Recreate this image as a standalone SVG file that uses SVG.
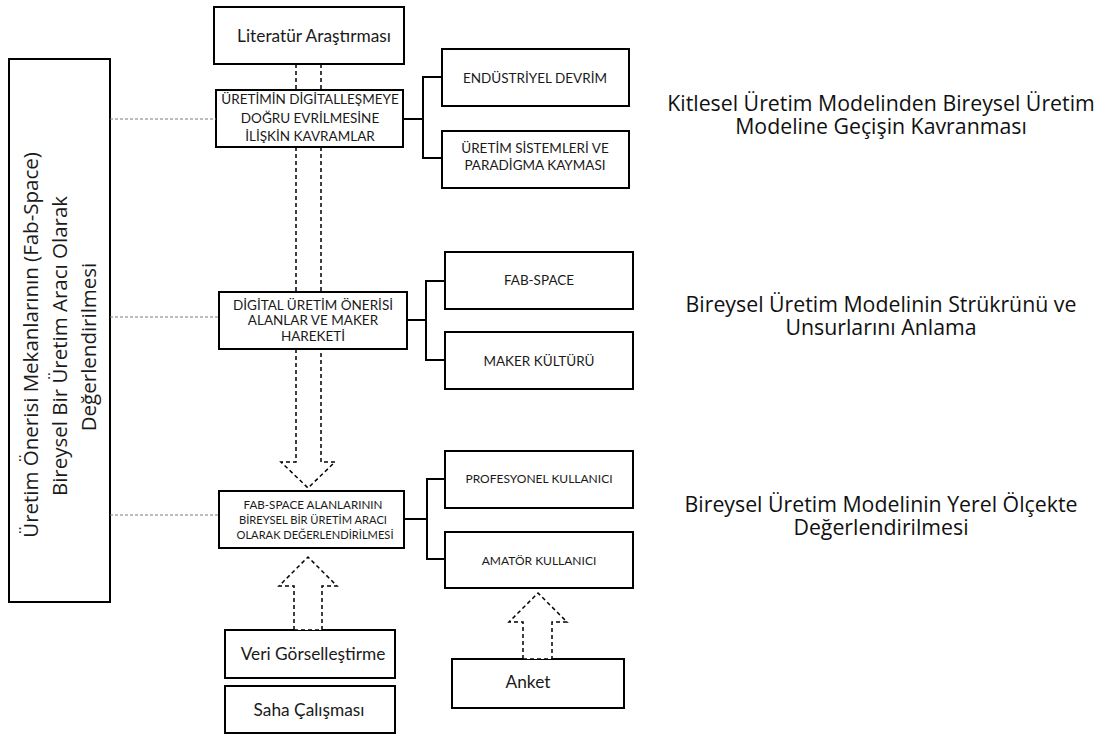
<svg xmlns="http://www.w3.org/2000/svg" width="1108" height="736" viewBox="0 0 1108 736">
  <style>
    .box { fill: #fff; stroke: #000; stroke-width: 2; }
    .t { font-family: Lato, "Open Sans", "Liberation Sans", sans-serif; fill: #1a1a1a; text-anchor: middle; }
    .cap { font-size: 13.5px; }
    .cap-s { font-size: 12px; }
    .cap-xs { font-size: 11.5px; }
    .lbl { font-size: 17.3px; }
    .side { font-family: "Open Sans", "Liberation Sans", sans-serif; font-size: 20.5px; fill: #1a1a1a; text-anchor: middle; }
    .title { font-family: "Open Sans", "Liberation Sans", sans-serif; font-size: 21.3px; fill: #111; text-anchor: middle; }
    .dash { fill: none; stroke: #000; stroke-width: 1.5; stroke-dasharray: 4 3; }
    .dash-w { fill: #fff; stroke: #000; stroke-width: 1.5; stroke-dasharray: 4 3; }
    .dot { fill: none; stroke: #7a7a7a; stroke-width: 1; stroke-dasharray: 3 2; }
    .brk { fill: none; stroke: #000; stroke-width: 2; }
  </style>

  <!-- side frame spanning all three stages -->
  <g id="frame">
    <rect class="box" x="9" y="59" width="101" height="543"/>
    <text class="side" transform="translate(38,345) rotate(-90)">Üretim Önerisi Mekanlarının (Fab-Space)</text>
    <text class="side" transform="translate(67,346) rotate(-90)">Bireysel Bir Üretim Aracı Olarak</text>
    <text class="side" transform="translate(96,347) rotate(-90)">Değerlendirilmesi</text>
  </g>

  <g id="literatur">
    <rect class="box" x="214" y="7" width="190" height="57"/>
    <text class="t lbl" x="314" y="42">Literatür Araştırması</text>
  </g>

  <g id="kavramlar">
    <rect class="box" x="216" y="90" width="187" height="57"/>
    <text class="t cap" x="310" y="104">ÜRETİMİN DİGİTALLEŞMEYE</text>
    <text class="t cap" x="310" y="123">DOĞRU EVRİLMESİNE</text>
    <text class="t cap" x="310" y="141">İLİŞKİN KAVRAMLAR</text>
  </g>

  <g id="endustriyel">
    <rect class="box" x="442" y="49" width="187" height="57"/>
    <text class="t cap" x="535" y="83">ENDÜSTRİYEL DEVRİM</text>
  </g>

  <g id="paradigma">
    <rect class="box" x="442" y="131" width="187" height="57"/>
    <text class="t cap" x="535" y="153">ÜRETİM SİSTEMLERİ VE</text>
    <text class="t cap" x="535" y="170">PARADİGMA KAYMASI</text>
  </g>

  <g id="dijital">
    <rect class="box" x="219" y="292" width="188" height="57"/>
    <text class="t cap" x="313" y="310">DİGİTAL ÜRETİM ÖNERİSİ</text>
    <text class="t cap" x="313" y="325">ALANLAR VE MAKER</text>
    <text class="t cap" x="313" y="341">HAREKETİ</text>
  </g>

  <g id="fabspace">
    <rect class="box" x="445" y="252" width="188" height="57"/>
    <text class="t cap" x="539" y="285">FAB-SPACE</text>
  </g>

  <g id="maker">
    <rect class="box" x="445" y="332" width="188" height="57"/>
    <text class="t cap" x="539" y="366">MAKER KÜLTÜRÜ</text>
  </g>

  <g id="degerlendirme">
    <rect class="box" x="219" y="491" width="185" height="57"/>
    <text class="t cap-xs" x="313" y="509" textLength="139" lengthAdjust="spacingAndGlyphs">FAB-SPACE ALANLARININ</text>
    <text class="t cap-xs" x="313" y="524" textLength="148" lengthAdjust="spacingAndGlyphs">BİREYSEL BİR ÜRETİM ARACI</text>
    <text class="t cap-xs" x="315" y="539" textLength="157" lengthAdjust="spacingAndGlyphs">OLARAK DEĞERLENDİRİLMESİ</text>
  </g>

  <g id="profesyonel">
    <rect class="box" x="445" y="451" width="188" height="57"/>
    <text class="t cap-s" x="539" y="483">PROFESYONEL KULLANICI</text>
  </g>

  <g id="amator">
    <rect class="box" x="445" y="532" width="188" height="56"/>
    <text class="t cap-s" x="539" y="565">AMATÖR KULLANICI</text>
  </g>

  <g id="veri">
    <rect class="box" x="225" y="630" width="170" height="48"/>
    <text class="t lbl" x="313" y="660">Veri Görselleştirme</text>
  </g>

  <g id="saha">
    <rect class="box" x="225" y="686" width="170" height="47"/>
    <text class="t lbl" x="309" y="716">Saha Çalışması</text>
  </g>

  <g id="anket">
    <rect class="box" x="452" y="659" width="172" height="49"/>
    <text class="t lbl" x="528" y="688" font-size="15.5">Anket</text>
  </g>

  <!-- stage captions -->
  <g id="asama1">
    <text class="title"><tspan x="881" y="111">Kitlesel Üretim Modelinden Bireysel Üretim</tspan><tspan x="881" y="134">Modeline Geçişin Kavranması</tspan></text>
  </g>
  <g id="asama2">
    <text class="title"><tspan x="881" y="312">Bireysel Üretim Modelinin Strükrünü ve</tspan><tspan x="881" y="335">Unsurlarını Anlama</tspan></text>
  </g>
  <g id="asama3">
    <text class="title"><tspan x="881" y="512">Bireysel Üretim Modelinin Yerel Ölçekte</tspan><tspan x="881" y="535">Değerlendirilmesi</tspan></text>
  </g>

  <g id="connectors">
    <!-- dotted leaders from the side frame -->
    <line class="dot" x1="110" y1="119" x2="216" y2="119"/>
    <line class="dot" x1="110" y1="317" x2="219" y2="317"/>
    <line class="dot" x1="110" y1="515" x2="219" y2="515"/>

    <!-- brackets to sub-topics -->
    <path class="brk" d="M403 119 H423 M442 77 H423 V158 H442"/>
    <path class="brk" d="M407 320 H426 M445 281 H426 V360 H445"/>
    <path class="brk" d="M404 519 H427 M445 479 H427 V559 H445"/>

    <!-- hollow down arrow running through the first two stages -->
    <path class="dash" d="M296 64 V90 M321 64 V90 M296 147 V292 M321 147 V292"/>
    <path class="dash" d="M296 349 V462 H281 L308 488 L335 462 H321 V349"/>

    <!-- hollow up arrows from the data sources -->
    <path class="dash-w" d="M294 630 V586 H279 L308 557 L337 586 H322 V630 Z"/>
    <path class="dash-w" d="M523 659 V622 H509 L538 593 L567 622 H552 V659 Z"/>
  </g>
</svg>
